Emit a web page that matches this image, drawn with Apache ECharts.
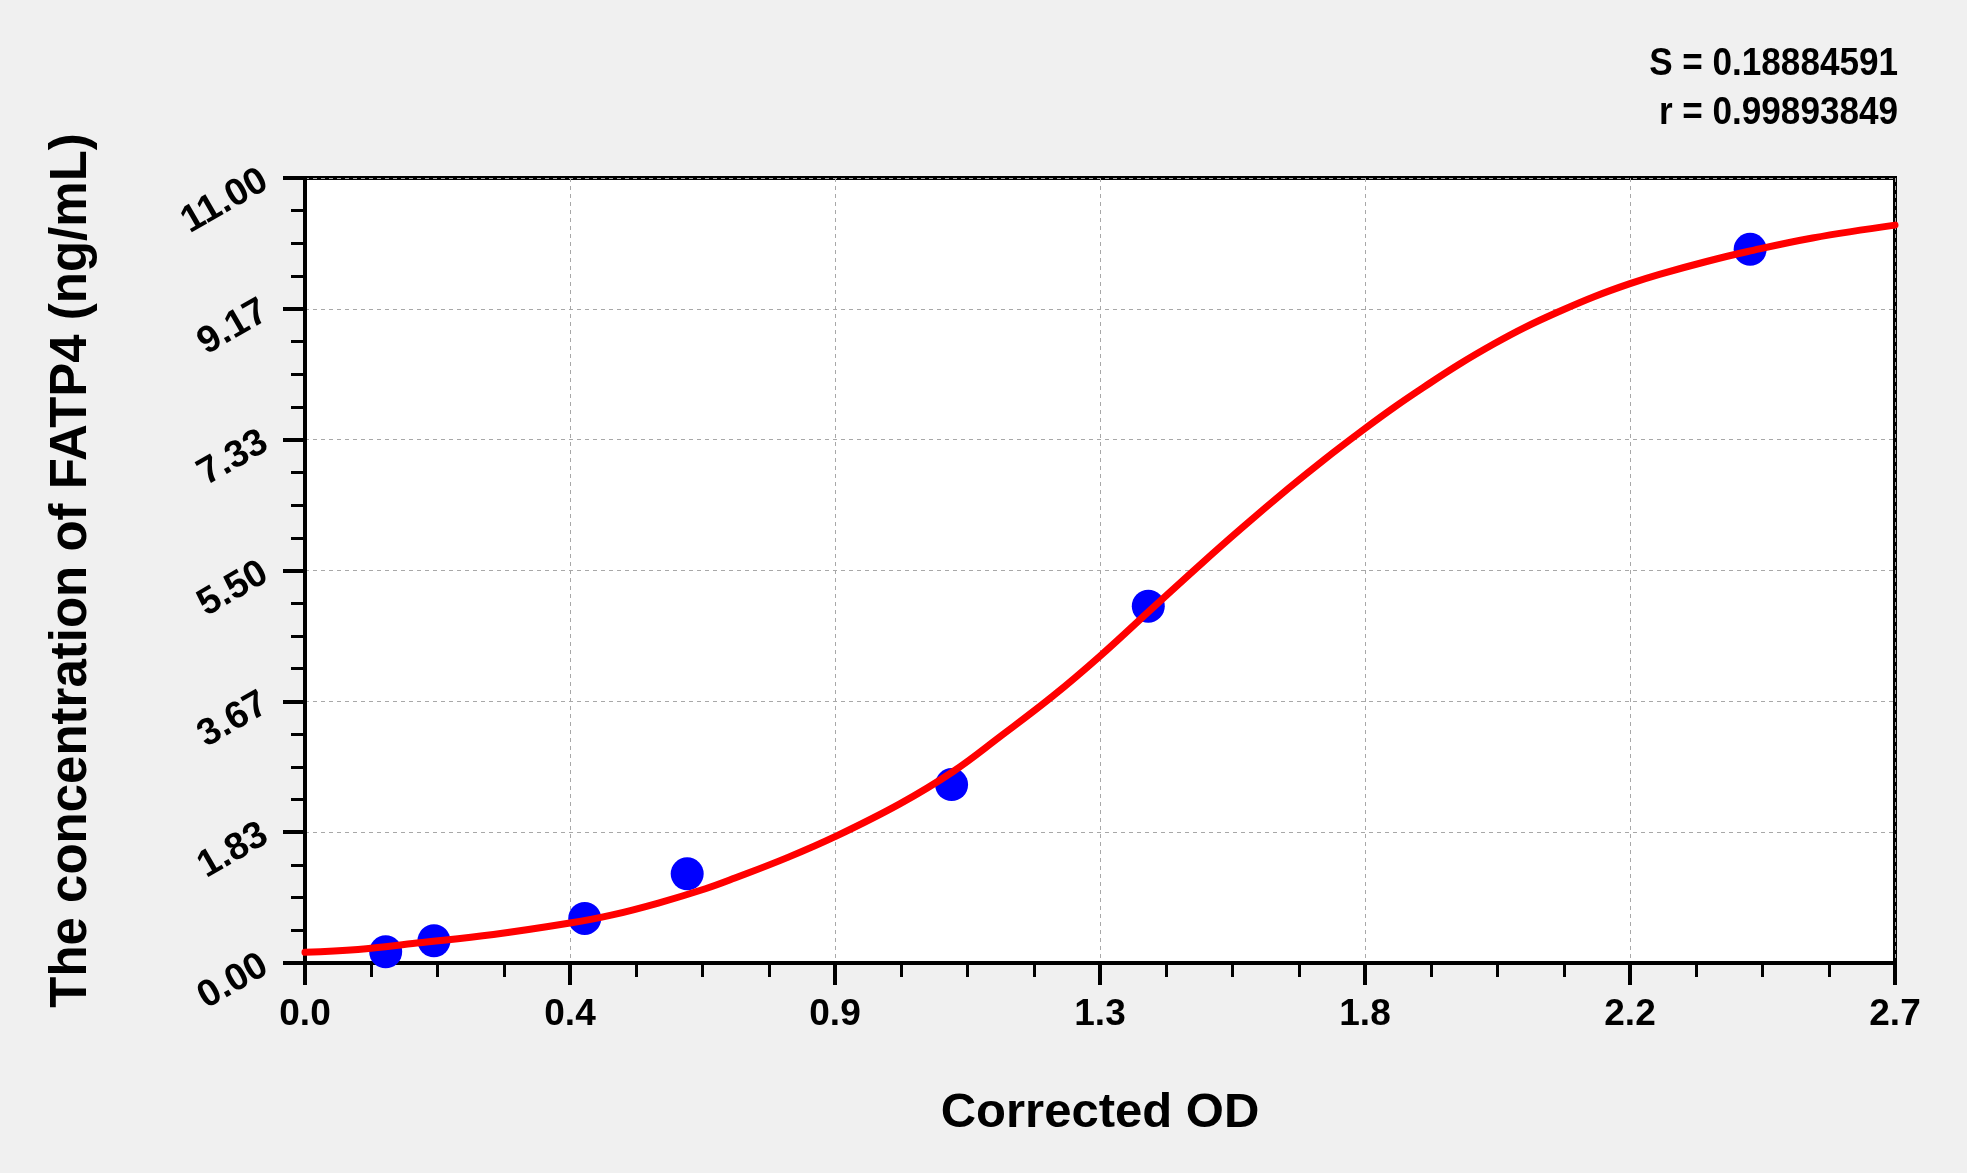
<!DOCTYPE html>
<html>
<head>
<meta charset="utf-8">
<script src="https://cdn.jsdelivr.net/npm/echarts@6/dist/echarts.min.js"></script>
<style>
	html,body{margin:0;padding:0;background:#f0f0f0;}
	#main{width:1967px;height:1173px;}
</style>
</head>
<body>
<div id="main"></div>
<script type="text/javascript">
	var FONT = 'Arial, "Liberation Sans", sans-serif';

	//刻度标签
	var xTickLabels = ['0.0','0.4','0.9','1.3','1.8','2.2','2.7'];
	var yTickLabels = ['0.00','1.83','3.67','5.50','7.33','9.17','11.00'];

	//标准点 (OD, 浓度)
	var stdOd = [0.137,0.219,0.475,0.649,1.098,1.432,2.454];
	var stdConc = [0.156,0.312,0.625,1.25,2.5,5,10];

	//拟合曲线
	var curveOd = [0,0.09,0.19,0.32,0.45,0.52,0.60,0.68,0.73,0.82,0.90,1.01,1.10,1.18,1.27,1.35,1.44,1.52,1.59,1.67,1.73,1.80,1.85,1.90,1.96,2.02,2.07,2.13,2.19,2.25,2.30,2.38,2.45,2.56,2.70];
	var curveConc = [0.15,0.19,0.28,0.40,0.56,0.67,0.84,1.04,1.19,1.48,1.77,2.23,2.68,3.17,3.74,4.30,4.98,5.58,6.09,6.65,7.05,7.49,7.79,8.07,8.39,8.68,8.90,9.13,9.34,9.52,9.65,9.83,9.97,10.16,10.34];

	var statS = 'S = 0.18884591';
	var statR = 'r = 0.99893849';

	var xStep = 0.45;
	var yStep = 11/6;

	var stdData = stdOd.map(function(v,i){return [v,stdConc[i]];});
	var curveData = curveOd.map(function(v,i){return [v,curveConc[i]];});

	var myChart = echarts.init(document.getElementById('main'));

	var xLabelStyle = {fontSize:37,fontWeight:'bold',color:'#000',fontFamily:FONT};
	var yLabelStyle = {fontSize:38,fontWeight:'bold',color:'#000',fontFamily:FONT};

	var option = {
		backgroundColor:'#f0f0f0',
		animation:false,
		grid:{
			left:305,right:72,top:178,bottom:210,
			show:true,backgroundColor:'#fff',borderColor:'#000',borderWidth:4
		},
		xAxis:{
			type:'value',min:0,max:2.7,interval:xStep,
			name:'Corrected OD',nameLocation:'middle',nameGap:126,
			nameTextStyle:{fontSize:49,fontWeight:'bold',color:'#000',fontFamily:FONT},
			axisLine:{show:true,onZero:false,lineStyle:{color:'#000',width:4}},
			axisTick:{show:true,length:22,lineStyle:{color:'#000',width:4}},
			minorTick:{show:true,splitNumber:4,length:14,lineStyle:{color:'#000',width:3}},
			splitLine:{show:true,lineStyle:{color:'#a8a8a8',width:1,type:[4,4]}},
			axisLabel:Object.assign({margin:33,formatter:function(v){return xTickLabels[Math.round(v/xStep)];}},xLabelStyle)
		},
		yAxis:{
			type:'value',min:0,max:11,interval:yStep,
			name:'The concentration of FATP4 (ng/mL)',nameLocation:'middle',nameGap:208,nameRotate:90,
			nameTextStyle:{fontSize:51,fontWeight:'bold',color:'#000',fontFamily:FONT},
			axisLine:{show:true,onZero:false,lineStyle:{color:'#000',width:4}},
			axisTick:{show:true,length:22,lineStyle:{color:'#000',width:4}},
			minorTick:{show:true,splitNumber:4,length:14,lineStyle:{color:'#000',width:3}},
			splitLine:{show:true,lineStyle:{color:'#a8a8a8',width:1,type:[4,4]}},
			axisLabel:Object.assign({margin:40,rotate:30,formatter:function(v){return yTickLabels[Math.round(v/yStep)];}},yLabelStyle)
		},
		graphic:[
			{type:'text',x:1898,y:64,z:10,scaleX:0.9,style:{text:statS,align:'right',verticalAlign:'middle',font:'bold 39px '+FONT,fill:'#000'}},
			{type:'text',x:1898,y:113,z:10,scaleX:0.9,style:{text:statR,align:'right',verticalAlign:'middle',font:'bold 39px '+FONT,fill:'#000'}}
		],
		series:[
			{
				type:'scatter',data:stdData,symbol:'circle',symbolSize:33,z:2,
				itemStyle:{color:'#0000ff',opacity:1}
			},
			{
				type:'line',data:curveData,showSymbol:false,smooth:0.4,z:3,
				lineStyle:{color:'#ff0000',width:7,cap:'round',join:'round'}
			}
		]
	};
	myChart.setOption(option);
</script>
</body>
</html>
